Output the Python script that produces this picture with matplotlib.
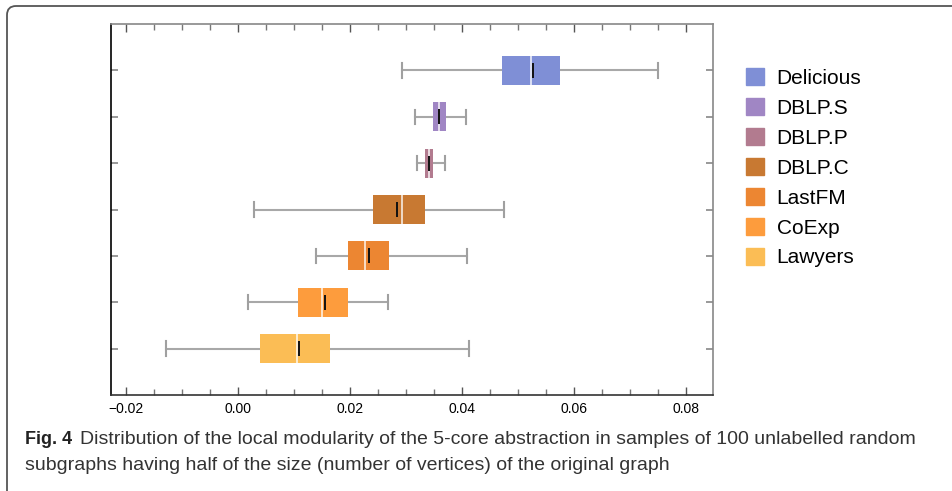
import numpy as np
import matplotlib
matplotlib.use('Agg')
from matplotlib import pyplot as plt
from matplotlib.patches import Patch, FancyBboxPatch
from matplotlib.transforms import IdentityTransform
from matplotlib.ticker import MultipleLocator

# data (top to bottom)
names = ['Delicious', 'DBLP.S', 'DBLP.P', 'DBLP.C', 'LastFM', 'CoExp', 'Lawyers']
whislo = [0.0294, 0.0316, 0.0320, 0.0030, 0.0139, 0.0018, -0.0128]
q1 = [0.0472, 0.0349, 0.0335, 0.0241, 0.0196, 0.0108, 0.0040]
med = [0.0524, 0.0359, 0.0342, 0.0293, 0.0228, 0.0150, 0.0105]
q3 = [0.0575, 0.0372, 0.0348, 0.0335, 0.0270, 0.0196, 0.0165]
whishi = [0.0750, 0.0407, 0.0370, 0.0475, 0.0409, 0.0268, 0.0412]
means = [0.0526, 0.0360, 0.0341, 0.0285, 0.0235, 0.0155, 0.0109]
colors = ['#7f8fd6', '#a086c4', '#b27b8f', '#c87932', '#ec8632', '#fd9c3d', '#fbbd55']

plt.rcParams['font.family'] = ['Liberation Sans', 'DejaVu Sans']

fig = plt.figure(figsize=(9.52, 4.91), dpi=100)
ax = fig.add_axes([111/952, 1-395/491, 602/952, 371/491])

pos = np.arange(len(names), 0, -1)
stats = []
for i in range(len(names)):
    stats.append(dict(label=names[i], whislo=whislo[i], q1=q1[i], med=med[i],
                      q3=q3[i], whishi=whishi[i], fliers=[]))

bp = ax.bxp(stats, positions=pos, vert=False, widths=0.63, patch_artist=True,
            showfliers=False, capwidths=0.31,
            boxprops=dict(linewidth=0),
            whiskerprops=dict(color='#a8a8a8', linewidth=1.5),
            capprops=dict(color='#a0a0a0', linewidth=1.5),
            medianprops=dict(color='white', linewidth=1.2, alpha=0.85))
for b, c in zip(bp['boxes'], colors):
    b.set_facecolor(c)
    b.set_edgecolor(c)
    b.set_zorder(3)
for m in bp['medians']:
    m.set_zorder(4)
ax.vlines(means, pos - 0.16, pos + 0.16, color='#111111', linewidth=1.4, zorder=5)

ax.set_xlim(-0.0226, 0.0848)
ax.set_ylim(0, 8)
ax.xaxis.set_major_locator(MultipleLocator(0.02))
ax.xaxis.set_minor_locator(MultipleLocator(0.005))
ax.xaxis.set_major_formatter(plt.FuncFormatter(lambda v, p: f'{v:.2f}'.replace('-', '\u2212')))
ax.set_yticks(pos)
ax.set_yticklabels([])
ax.tick_params(axis='x', which='major', direction='in', length=6, width=1,
               color='#555555', top=True, labelsize=10, pad=5)
ax.tick_params(axis='x', which='minor', direction='in', length=4, width=1,
               color='#777777', top=True)
ax.tick_params(axis='y', direction='in', length=5, width=1.2, color='#888888',
               right=True)
ax.spines['left'].set_color('black')
ax.spines['bottom'].set_color('#333333')
ax.spines['top'].set_color('#888888')
ax.spines['right'].set_color('#888888')
for s in ax.spines.values():
    s.set_linewidth(1.2)

handles = [Patch(facecolor=c, edgecolor=c) for c in colors]
fig.legend(handles, names, loc='upper left', bbox_to_anchor=(738/952, 1-60/491),
           frameon=False, fontsize=15, handlelength=0.85, handleheight=0.85,
           handletextpad=0.6, labelspacing=0.5, borderaxespad=0)

# outer frame of the published figure
frame = FancyBboxPatch((7, -60), 1100, 545, boxstyle='round,pad=0,rounding_size=9',
                       transform=IdentityTransform(), fill=False,
                       edgecolor='#555555', linewidth=1.3)
fig.patches.append(frame)

cap_font = ['Liberation Sans Narrow', 'Liberation Sans', 'DejaVu Sans']
fig.text(25/952, 1-440/491, 'Fig. 4', fontsize=13, fontweight='bold',
         family=cap_font, va='center', color='#222222')
fig.text(80/952, 1-440/491,
         'Distribution of the local modularity of the 5-core abstraction in samples of 100 unlabelled random',
         fontsize=14, family=cap_font, va='center', color='#333333')
fig.text(25/952, 1-466/491,
         'subgraphs having half of the size (number of vertices) of the original graph',
         fontsize=14, family=cap_font, va='center', color='#333333')

fig.savefig('out.png', dpi=100)
